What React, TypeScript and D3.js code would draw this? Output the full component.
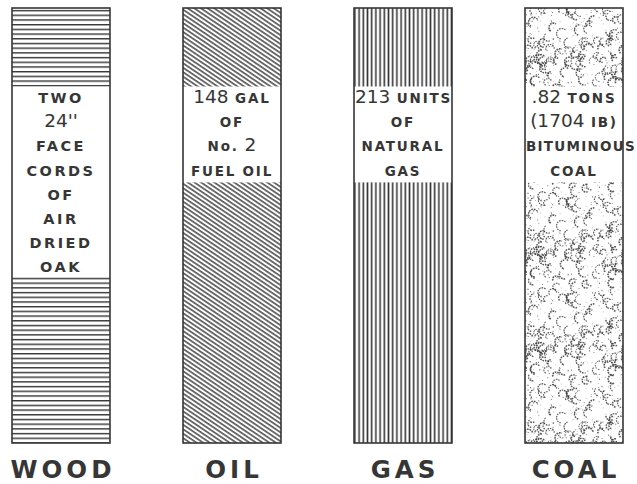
import React, { useRef, useEffect } from 'react';
import * as d3 from 'd3';

const W = 637;
const H = 484;

// each column is the same amount of heat, expressed in each fuel
const fuels = ['WOOD', 'OIL', 'GAS', 'COAL'];
const heatEquivalent = [1, 1, 1, 1];
const labelLines = [
  ['TWO', "24''", 'FACE', 'CORDS', 'OF', 'AIR', 'DRIED', 'OAK'],
  ['148 GAL', 'OF', 'No. 2', 'FUEL OIL'],
  ['213 UNITS', 'OF', 'NATURAL', 'GAS'],
  ['.82 TONS', '(1704 IB)', 'BITUMINOUS', 'COAL'],
];
const textures = ['horizontal', 'diagonal', 'vertical', 'stipple'];

const ink = '#363636';
const font = '"DejaVu Sans", "Liberation Sans", Arial, sans-serif';

const EquivalenceChart: React.FC = () => {
  const svgRef = useRef<SVGSVGElement>(null);

  useEffect(() => {
    if (!svgRef.current) return;
    const svg = d3.select(svgRef.current);
    svg.selectAll('*').remove();

    const x = d3.scaleBand<string>().domain(fuels).range([12, 623]).paddingInner(0.427);
    const y = d3.scaleLinear().domain([0, 1]).range([443, 8]);

    const defs = svg.append('defs');

    // --- textures ---
    const horiz = defs.append('pattern')
      .attr('id', 'tex-horizontal')
      .attr('patternUnits', 'userSpaceOnUse')
      .attr('width', 10).attr('height', 4.7)
      .attr('y', 8);
    horiz.append('line')
      .attr('x1', 0).attr('x2', 10).attr('y1', 2.6).attr('y2', 2.6)
      .attr('stroke', ink).attr('stroke-width', 1.4);

    const diag = defs.append('pattern')
      .attr('id', 'tex-diagonal')
      .attr('patternUnits', 'userSpaceOnUse')
      .attr('width', 10).attr('height', 3.7)
      .attr('patternTransform', 'rotate(34)');
    diag.append('line')
      .attr('x1', 0).attr('x2', 10).attr('y1', 1.8).attr('y2', 1.8)
      .attr('stroke', ink).attr('stroke-width', 1.4);

    const vert = defs.append('pattern')
      .attr('id', 'tex-vertical')
      .attr('patternUnits', 'userSpaceOnUse')
      .attr('width', 4.2).attr('height', 10);
    vert.append('line')
      .attr('x1', 2.1).attr('x2', 2.1).attr('y1', 0).attr('y2', 10)
      .attr('stroke', ink).attr('stroke-width', 1.6);

    // stippled lumps for coal (seeded so it is the same each time)
    const tile = 96;
    const stip = defs.append('pattern')
      .attr('id', 'tex-stipple')
      .attr('patternUnits', 'userSpaceOnUse')
      .attr('width', tile).attr('height', tile)
      .attr('x', 526).attr('y', 8);
    const rnd = d3.randomLcg(0.3172);
    const offsets = [-tile, 0, tile];
    for (let i = 0; i < 115; i++) {
      const cx = rnd() * tile, cy = rnd() * tile;
      const r = 3 + rnd() * 2.4;
      // lumps are shaded on their lower-left side
      const a0 = Math.PI * (0.3 + rnd() * 0.6);
      const a1 = a0 + Math.PI * (0.6 + rnd() * 0.7);
      const p = d3.path();
      p.arc(0, 0, r, a0, a1);
      const d = p.toString();
      const sw = 0.9 + rnd() * 0.8;
      for (const ox of offsets) {
        for (const oy of offsets) {
          stip.append('path')
            .attr('d', d)
            .attr('transform', `translate(${cx + ox},${cy + oy})`)
            .attr('fill', 'none')
            .attr('stroke', ink)
            .attr('stroke-width', sw)
            .attr('stroke-dasharray', '1.6 0.9')
            .attr('opacity', 0.85);
        }
      }
    }
    for (let i = 0; i < 260; i++) {
      const cx = rnd() * tile, cy = rnd() * tile;
      stip.append('circle')
        .attr('cx', cx).attr('cy', cy)
        .attr('r', 0.3 + rnd() * 0.4)
        .attr('fill', ink)
        .attr('opacity', 0.7);
    }

    // --- columns ---
    const col = svg.selectAll('g.col')
      .data(fuels)
      .join('g')
      .attr('class', 'col');

    col.append('rect')
      .attr('x', d => x(d)!)
      .attr('y', (d, i) => y(heatEquivalent[i]))
      .attr('width', x.bandwidth())
      .attr('height', (d, i) => y(0) - y(heatEquivalent[i]))
      .attr('fill', (d, i) => `url(#tex-${textures[i]})`);

    const boxTop = 86.5;
    const step = 24.2;

    col.append('rect')
      .attr('x', d => x(d)!)
      .attr('y', boxTop)
      .attr('width', x.bandwidth())
      .attr('height', (d, i) => labelLines[i].length * 23.6 + 1.5)
      .attr('fill', '#fff');

    col.append('rect')
      .attr('x', d => x(d)!)
      .attr('y', (d, i) => y(heatEquivalent[i]))
      .attr('width', x.bandwidth())
      .attr('height', (d, i) => y(0) - y(heatEquivalent[i]))
      .attr('fill', 'none')
      .attr('stroke', ink)
      .attr('stroke-width', 1.6);

    // labels inside the white box: numbers large and light, words small and spaced
    col.each(function (fuel, i) {
      const g = d3.select(this);
      const x0 = x(fuel)!;
      const cx = x0 + x.bandwidth() / 2;
      labelLines[i].forEach((line, j) => {
        const t = g.append('text')
          .attr('x', cx)
          .attr('y', boxTop + 16.5 + j * step)
          .attr('text-anchor', 'middle')
          .attr('font-family', font)
          .attr('fill', ink);
        line.split(' ').forEach((tok, k) => {
          const big = /\d/.test(tok);
          t.append('tspan')
            .attr('font-size', big ? 18.5 : (i === 0 ? 14.5 : 13.5))
            .attr('font-weight', big ? 400 : 700)
            .attr('letter-spacing', big ? 0 : (i === 0 ? 2.5 : 1.8))
            .text((k > 0 ? ' ' : '') + tok);
        });
        const node = t.node() as SVGTextElement;
        const w = node.getBBox().width;
        if (w > x.bandwidth() - 2) {
          // too wide for the column: run it out past the right edge, as printed
          t.attr('text-anchor', 'start').attr('x', x0 + 1);
          const room = W - 2 - (x0 + 1);
          if (w > room) {
            t.selectAll('tspan').attr('letter-spacing', 0.4);
            t.attr('textLength', room).attr('lengthAdjust', 'spacing');
          }
        }
      });
    });

    // fuel names under the columns
    svg.selectAll('text.fuel')
      .data(fuels)
      .join('text')
      .attr('class', 'fuel')
      .attr('x', d => x(d)! + x.bandwidth() / 2 + 2)
      .attr('y', 478)
      .attr('text-anchor', 'middle')
      .attr('font-family', font)
      .attr('font-weight', 700)
      .attr('font-size', 24.5)
      .attr('letter-spacing', 4)
      .attr('fill', ink)
      .text(d => d);
  }, []);

  return (
    <svg
      ref={svgRef}
      width={W}
      height={H}
      style={{ position: 'absolute', left: 0, top: 0, background: '#fff', display: 'block' }}
    />
  );
};

export default function App() {
  return <EquivalenceChart />;
}
